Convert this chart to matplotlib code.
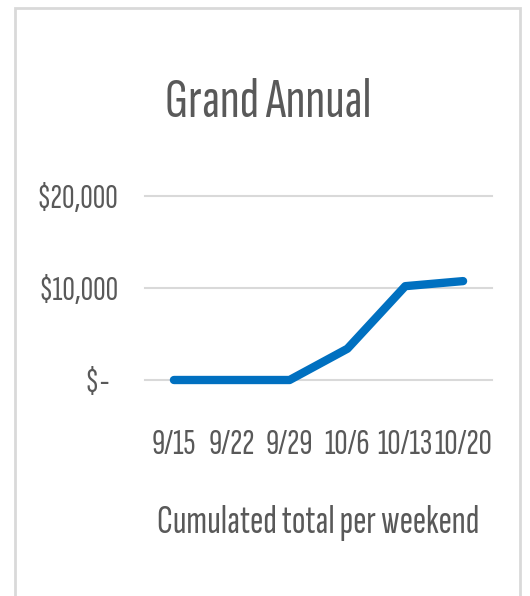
import matplotlib
matplotlib.use("Agg")
import matplotlib.pyplot as plt
from matplotlib.patches import Rectangle
from matplotlib.ticker import FixedLocator

# data
weekends = ["9/15", "9/22", "9/29", "10/6", "10/13", "10/20"]
totals = [0, 0, 0, 3400, 10200, 10750]
y_ticks = [0, 10000, 20000]
y_tick_labels = ["$-  ", "$10,000", "$20,000"]

plt.rcParams["font.family"] = ["Sofia Sans Extra Condensed", "Fira Sans Extra Condensed",
                               "Open Sans Condensed", "Carlito", "DejaVu Sans"]
text_color = "#595959"
grid_color = "#D9D9D9"

W, H = 530, 596
fig = plt.figure(figsize=(W / 100, H / 100), dpi=100)

# plot area in pixel terms: x 145..492, y 196..380
ax = fig.add_axes([145 / W, (H - 380) / H, 347 / W, 184 / H])

x = list(range(len(weekends)))
ax.plot(x, totals, color="#0070C0", lw=6, solid_capstyle="round",
        solid_joinstyle="round", clip_on=False, zorder=3)

ax.set_xlim(-0.5, len(weekends) - 0.5)
ax.set_ylim(0, 20000)
ax.yaxis.set_major_locator(FixedLocator(y_ticks))
ax.set_yticklabels(y_tick_labels)
ax.set_xticks(x)
ax.set_xticklabels(weekends)

for yv in y_ticks:
    ax.axhline(yv, color=grid_color, lw=1.5, zorder=1, clip_on=False)

for s in ax.spines.values():
    s.set_visible(False)
ax.tick_params(axis="both", length=0, colors=text_color)
ax.tick_params(axis="y", pad=19, labelsize=25)
ax.tick_params(axis="x", pad=35, labelsize=26.5)

ax.set_xlabel("Cumulated total per weekend", fontsize=29, color=text_color)
ax.xaxis.set_label_coords(0.5, (380 - 533) / 184)
ax.xaxis.label.set_va("baseline")

fig.text(268 / W, (H - 117) / H, "Grand Annual", fontsize=41, color=text_color,
         ha="center", va="baseline")

# chart border, bottom edge runs off the image
border = Rectangle((15 / W, -0.05), (520 - 15) / W, (H - 8) / H + 0.05,
                   transform=fig.transFigure, fill=False, edgecolor=grid_color,
                   lw=2, clip_on=False)
fig.patches.append(border)

fig.savefig("out.png", dpi=100)
